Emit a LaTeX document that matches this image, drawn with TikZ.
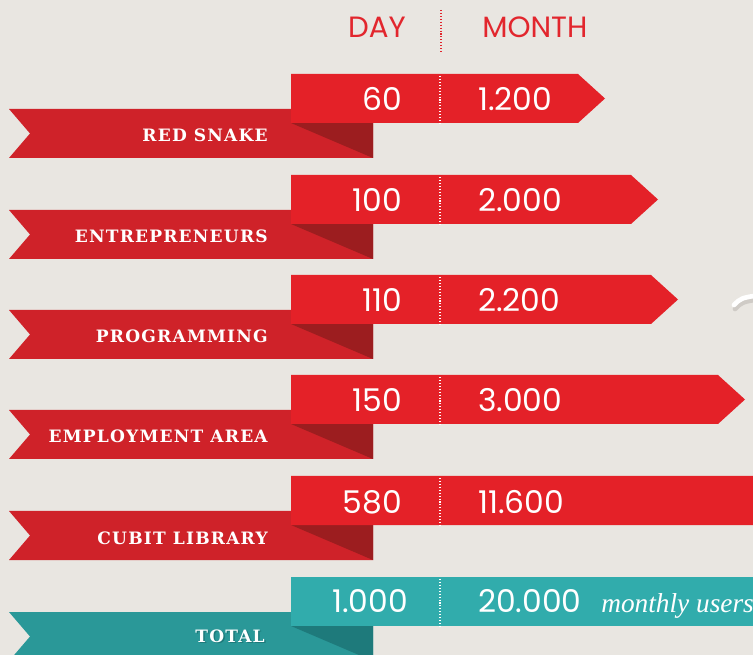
\documentclass[tikz,border=0pt]{standalone}
\usepackage{fontspec}
\newfontfamily\numfont{Poppins}
\newfontfamily\labfont[LetterSpace=7]{DejaVu Serif}
\newfontfamily\itfont{Liberation Serif}
\definecolor{bg}{HTML}{E9E6E1}
\definecolor{bgshade}{HTML}{CFCBC6}
\definecolor{hdr}{HTML}{E2262D}
\definecolor{redA}{HTML}{E42128}
\definecolor{redB}{HTML}{CF2229}
\definecolor{redC}{HTML}{9C1D1F}
\definecolor{tealA}{HTML}{31ACAC}
\definecolor{tealB}{HTML}{2A9898}
\definecolor{tealC}{HTML}{1E7A7B}
\tikzset{
  numtext/.style={inner sep=0pt, text=white, font=\numfont\fontsize{23.5}{26}\selectfont},
  hdrtext/.style={inner sep=0pt, text=hdr, font=\numfont\fontsize{22}{24}\selectfont},
  labtext/.style={inner sep=0pt, text=white, font=\labfont\bfseries\fontsize{12.8}{15}\selectfont},
  sepline/.style={line width=1.1pt, dash pattern=on 0.8pt off 1.4pt},
}
% #1 top y, #2 x where the arrow tip starts, #3 label, #4 day, #5 month, #6 colour set, #7 id
\newcommand\bandrow[7]{%
  \fill[#6B] (9,#1+35) -- (373,#1+35) -- (373,#1+84) -- (9,#1+84) -- (30,#1+59.5) -- cycle;
  \fill[#6C] (291,#1+49) -- (373,#1+49) -- (373,#1+84) -- cycle;
  \fill[#6A] (291,#1) -- (#2,#1) -- (#2+27,#1+24.5) -- (#2,#1+49) -- (291,#1+49) -- cycle;
  \draw[white, sepline] (440,#1+2) -- (440,#1+49);
  \node[labtext, anchor=base east] (lab#7) at (268,#1+68) {#3};
  \node[numtext, anchor=base east] (day#7) at (402,#1+37) {#4};
  \node[numtext, anchor=base west] (mon#7) at (478,#1+37) {#5};
}
\begin{document}
\begin{tikzpicture}[x=0.75pt, y=-0.75pt]
\useasboundingbox (0,0) rectangle (753,655);
\clip (0,0) rectangle (753,655);
\fill[bg] (0,0) rectangle (753,655);
% header
\node[hdrtext, anchor=base east] (dayhdr) at (406,38) {DAY};
\node[hdrtext, anchor=base west] (monthhdr) at (482,38) {MONTH};
\draw[hdr, sepline] (441,10) -- (441,52);
% white curve at the right edge
\draw[bgshade, line width=3.5pt, line cap=round] (735,309) .. controls (742,302) .. (760,299);
\draw[white, line width=3.5pt, line cap=round] (734,305) .. controls (741,298) .. (760,295);
% rows
\bandrow{74}{578}{RED SNAKE}{60}{1.200}{red}{a}
\bandrow{175}{631}{ENTREPRENEURS}{100}{2.000}{red}{b}
\bandrow{275}{651}{PROGRAMMING}{110}{2.200}{red}{c}
\bandrow{375}{718}{EMPLOYMENT AREA}{150}{3.000}{red}{d}
\bandrow{476}{800}{CUBIT LIBRARY}{580}{11.600}{red}{e}
% total row
\fill[tealB] (9,612) -- (373,612) -- (373,661) -- (9,661) -- (30,636.5) -- cycle;
\fill[tealC] (291,626) -- (373,626) -- (373,661) -- cycle;
\fill[tealA] (291,577) -- (800,577) -- (800,626) -- (291,626) -- cycle;
\draw[white, sepline] (440,579) -- (440,626);
\node[labtext, text=tealC, anchor=base east] (labfshadow) at (266.5,643.5) {TOTAL};
\node[labtext, anchor=base east] (labf) at (265,642) {TOTAL};
\node[numtext, anchor=base east] (dayf) at (408,612) {1.000};
\node[numtext, anchor=base west] (monf) at (478,612) {20.000};
\node[inner sep=0pt, text=white, anchor=base west, font=\itfont\itshape\fontsize{20.5}{23}\selectfont] (unitf) at (601,612) {monthly users};
\end{tikzpicture}
\end{document}
